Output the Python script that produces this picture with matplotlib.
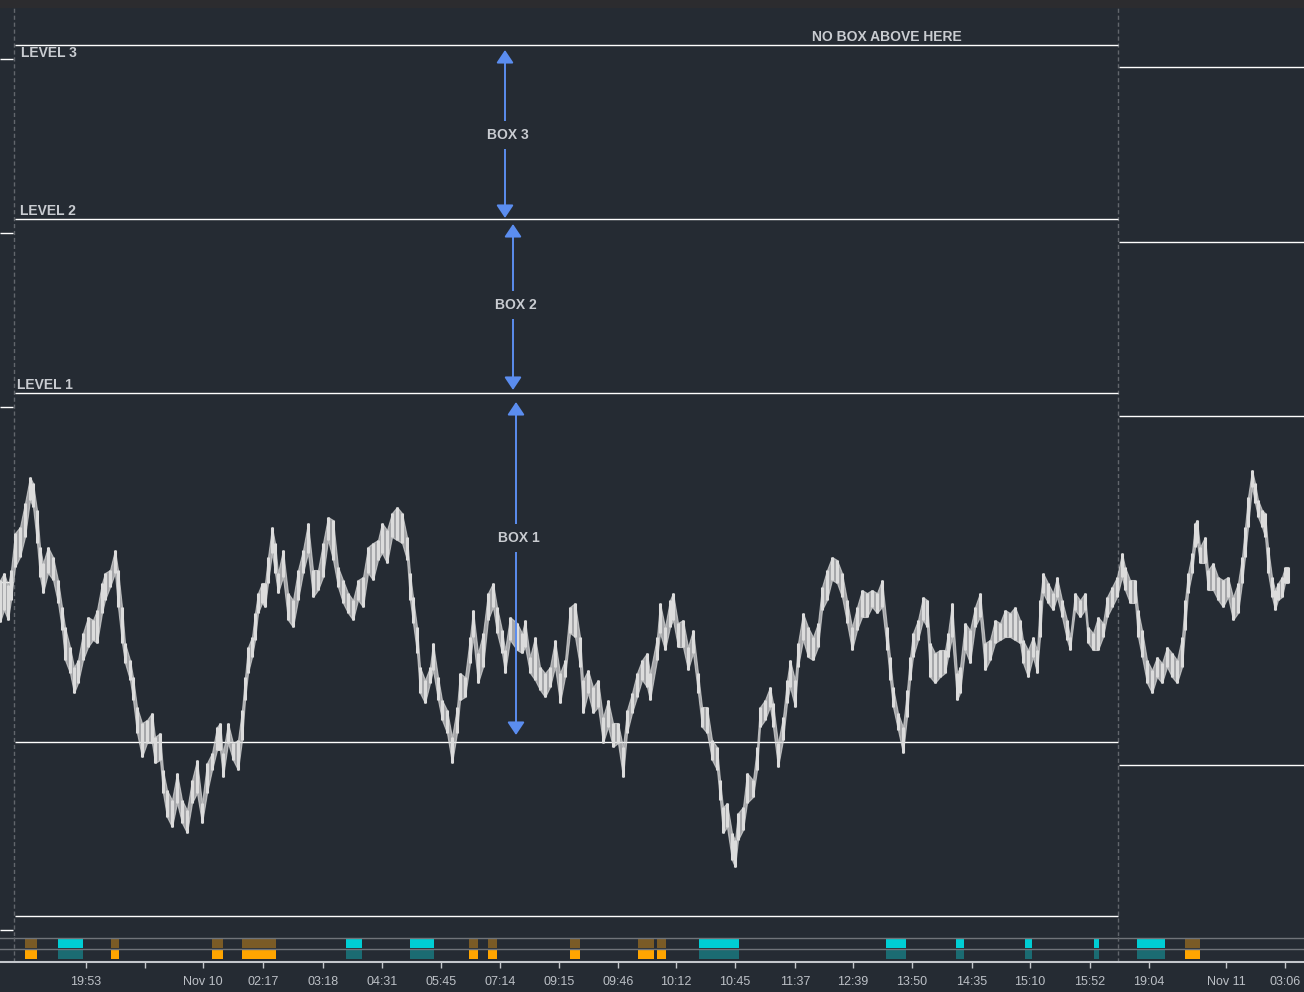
import matplotlib.pyplot as plt
from matplotlib.patches import Rectangle

# bar index (one bar per pixel column) and high/low prices
bar_idx = [0, 4, 8, 11, 15, 20, 25, 30, 33, 37, 40, 43, 48, 53, 58, 62, 65, 70, 74, 78,
           83, 88, 93, 97, 102, 105, 110, 115, 118, 122, 125, 130, 133, 137, 142, 147, 152, 155, 160, 163,
           167, 172, 177, 182, 187, 192, 197, 202, 207, 212, 217, 220, 223, 228, 233, 238, 242, 245, 248, 252,
           255, 258, 262, 265, 268, 272, 275, 278, 283, 288, 293, 298, 303, 308, 313, 318, 323, 328, 333, 338,
           343, 348, 353, 358, 363, 368, 373, 378, 382, 387, 392, 397, 402, 407, 410, 413, 417, 420, 425, 430,
           433, 438, 442, 447, 452, 457, 460, 465, 470, 473, 478, 483, 488, 493, 497, 502, 505, 510, 517, 522,
           525, 530, 535, 540, 545, 550, 555, 560, 565, 570, 575, 580, 583, 588, 593, 598, 603, 608, 613, 618,
           623, 627, 632, 637, 642, 647, 650, 657, 660, 665, 670, 673, 678, 683, 688, 693, 698, 702, 707, 712,
           717, 720, 723, 727, 732, 735, 738, 743, 747, 753, 757, 760, 765, 770, 773, 778, 783, 787, 790, 795,
           798, 803, 808, 813, 818, 822, 827, 832, 837, 842, 847, 852, 857, 862, 867, 872, 877, 882, 887, 890,
           893, 898, 903, 907, 910, 913, 918, 923, 927, 930, 935, 940, 945, 948, 952, 957, 960, 965, 970, 975,
           980, 985, 990, 995, 1000, 1005, 1010, 1015, 1020, 1023, 1028, 1033, 1037, 1040, 1043, 1048, 1053, 1057, 1062, 1067,
           1070, 1075, 1080, 1085, 1088, 1093, 1098, 1103, 1107, 1112, 1117, 1122, 1125, 1130, 1135, 1138, 1142, 1147, 1152, 1157,
           1162, 1167, 1172, 1177, 1182, 1185, 1188, 1192, 1195, 1197, 1200, 1205, 1208, 1213, 1218, 1223, 1228, 1233, 1238, 1242,
           1245, 1248, 1252, 1255, 1258, 1262, 1265, 1268, 1272, 1275, 1278, 1282, 1285, 1288]
highs = [420, 427, 415, 430, 467, 473, 497, 523, 517, 490, 453, 437, 453, 443, 420, 393, 373, 353, 333, 340,
         367, 383, 380, 390, 417, 427, 430, 450, 430, 393, 357, 340, 323, 293, 277, 280, 287, 263, 267, 230,
         210, 200, 227, 200, 190, 220, 240, 197, 237, 247, 273, 277, 247, 277, 257, 260, 290, 323, 353, 363,
         387, 407, 417, 417, 443, 473, 457, 427, 450, 407, 400, 430, 450, 477, 430, 430, 457, 483, 480, 433,
         420, 407, 400, 420, 423, 453, 457, 460, 477, 470, 487, 493, 487, 463, 427, 403, 373, 333, 320, 333,
         357, 323, 300, 290, 263, 293, 327, 323, 363, 390, 347, 367, 407, 417, 393, 370, 350, 383, 377, 367,
         380, 343, 363, 333, 327, 333, 360, 327, 340, 393, 397, 363, 320, 330, 313, 320, 283, 300, 277, 277,
         253, 290, 307, 327, 340, 347, 327, 363, 397, 373, 400, 407, 377, 380, 353, 370, 327, 293, 293, 260,
         253, 220, 193, 197, 167, 160, 187, 193, 227, 220, 253, 293, 300, 313, 297, 257, 283, 320, 340, 320,
         357, 387, 373, 363, 377, 413, 430, 443, 440, 427, 400, 373, 393, 410, 407, 410, 407, 420, 373, 343,
         313, 287, 273, 310, 343, 367, 380, 403, 400, 357, 347, 350, 350, 367, 397, 327, 333, 377, 370, 393,
         407, 357, 360, 380, 377, 390, 387, 393, 380, 360, 350, 363, 350, 400, 427, 417, 407, 423, 400, 380,
         363, 407, 400, 407, 373, 367, 383, 377, 403, 413, 423, 447, 433, 420, 420, 390, 370, 340, 330, 343,
         337, 353, 347, 340, 363, 400, 427, 447, 477, 480, 453, 463, 430, 437, 423, 420, 423, 403, 417, 443,
         473, 503, 530, 517, 500, 490, 487, 453, 423, 410, 417, 423, 433, 433]
lows = [378, 390, 380, 400, 433, 443, 463, 500, 493, 457, 423, 407, 427, 420, 397, 370, 340, 327, 307, 317,
        340, 353, 360, 357, 387, 400, 413, 427, 393, 357, 337, 320, 300, 267, 243, 257, 257, 237, 240, 207,
        183, 173, 197, 177, 167, 197, 207, 177, 207, 230, 250, 250, 223, 257, 240, 230, 260, 300, 327, 343,
        360, 387, 397, 393, 417, 447, 427, 407, 423, 380, 373, 400, 427, 447, 403, 410, 423, 460, 440, 413,
        397, 387, 380, 400, 393, 427, 420, 440, 447, 437, 463, 460, 457, 440, 400, 377, 347, 307, 297, 317,
        330, 300, 280, 267, 237, 267, 300, 303, 337, 363, 317, 333, 380, 393, 367, 347, 327, 360, 350, 347,
        353, 327, 320, 310, 303, 313, 333, 297, 323, 367, 363, 333, 287, 307, 287, 293, 257, 273, 253, 257,
        223, 267, 287, 303, 320, 313, 300, 340, 367, 350, 373, 380, 353, 353, 330, 347, 307, 273, 267, 240,
        230, 200, 167, 173, 140, 133, 160, 170, 197, 203, 230, 273, 280, 293, 273, 233, 260, 297, 313, 293,
        333, 360, 343, 340, 353, 390, 400, 420, 417, 403, 377, 350, 370, 383, 383, 393, 387, 393, 350, 320,
        293, 270, 247, 283, 320, 343, 360, 380, 373, 323, 317, 323, 327, 343, 363, 300, 307, 350, 337, 373,
        383, 330, 340, 357, 360, 363, 363, 360, 357, 337, 323, 343, 327, 363, 407, 397, 390, 403, 383, 360,
        350, 390, 383, 390, 357, 350, 350, 363, 383, 393, 403, 423, 410, 397, 397, 363, 343, 317, 307, 323,
        317, 333, 323, 317, 333, 370, 407, 427, 453, 457, 437, 437, 410, 410, 400, 393, 403, 380, 387, 417,
        443, 473, 513, 497, 483, 473, 463, 427, 403, 390, 400, 403, 417, 417]

# session boundaries and box levels per session
session_breaks = [14, 1118]
left_levels = [941, 767, 593, 418, 70]
main_levels = [955, 781, 607, 258, 84]
right_levels = [933, 758, 584, 235]
level_names = ["LEVEL 3", "LEVEL 2", "LEVEL 1"]

# boxes: (label, top, bottom, label position)
boxes = [("BOX 3", 950, 782, 865), ("BOX 2", 776, 610, 695), ("BOX 1", 598, 265, 462)]

# indicator strip events (start bar, end bar)
sell_events = [(25, 37), (111, 119), (212, 223), (242, 276), (469, 478), (488, 497),
               (570, 580), (638, 654), (657, 666), (1185, 1200)]
buy_events = [(58, 83), (346, 362), (410, 434), (699, 739), (886, 906), (956, 964),
              (1025, 1032), (1094, 1099), (1137, 1165)]

tick_pos = [86, 145, 203, 263, 323, 382, 441, 500, 559, 618, 676, 735, 795, 853, 912,
            972, 1030, 1090, 1149, 1226, 1285]
tick_labels = ["19:53", "", "Nov 10", "02:17", "03:18", "04:31", "05:45", "07:14", "09:15", "09:46",
               "10:12", "10:45", "11:37", "12:39", "13:50", "14:35", "15:10", "15:52", "19:04",
               "Nov 11", "03:06"]

BG = "#252b33"
TXT = "#c9ccd1"
ARROW = "#5b8def"
BAR = "#dcdcdc"
W, H = 1304, 992

plt.rcParams["font.family"] = ["Liberation Sans", "DejaVu Sans"]

fig = plt.figure(figsize=(W / 100, H / 100), dpi=100, facecolor=BG)

# dark title strip at the very top
fig.add_artist(Rectangle((0, (H - 8) / H), 1, 8 / H, transform=fig.transFigure,
                         facecolor="#2c2c2f", edgecolor="none"))

ax = fig.add_axes([0, (H - 936) / H, 1, 928 / H])
ax.set_facecolor(BG)
ax.set_xlim(0, W)
ax.set_ylim(64, 992)
ax.axis("off")

# price bars
ax.fill_between(bar_idx, lows, highs, color=BAR, alpha=0.7, lw=0.8, zorder=3)
ax.vlines(bar_idx, lows, highs, color=BAR, lw=2.2, zorder=4)

# level lines
for y in left_levels:
    ax.hlines(y, 0, session_breaks[0] - 1, color="white", lw=1.0, zorder=2)
for y in main_levels:
    ax.hlines(y, session_breaks[0] + 1, session_breaks[1], color="white", lw=1.0, zorder=2)
for y in right_levels:
    ax.hlines(y, session_breaks[1] + 1, W, color="white", lw=1.0, zorder=2)

for xb in session_breaks:
    ax.axvline(xb, color="#62666c", lw=1, ls=(0, (3, 2)), zorder=1)

# level labels
lab_kw = dict(color=TXT, fontsize=10, fontweight="bold", zorder=6)
ax.text(21, 947, level_names[0], ha="left", va="center", **lab_kw)
ax.text(20, 789, level_names[1], ha="left", va="center", **lab_kw)
ax.text(17, 615, level_names[2], ha="left", va="center", **lab_kw)
ax.text(887, 963, "NO BOX ABOVE HERE", ha="center", va="center", **lab_kw)

# box arrows
label_x = [508, 516, 519]
for (name, top, bot, ly), lx in zip(boxes, label_x):
    ax.annotate("", xy=(lx - 3, top), xytext=(lx - 3, bot),
                arrowprops=dict(arrowstyle="<|-|>,head_length=0.6,head_width=0.4", color=ARROW,
                                lw=1.4, mutation_scale=13, shrinkA=0, shrinkB=0), zorder=5)
    ax.text(lx, ly, name, ha="center", va="center",
            bbox=dict(facecolor=BG, edgecolor="none", pad=5), **lab_kw)

# indicator strip
sx = fig.add_axes([0, (H - 962) / H, 1, 26 / H])
sx.set_facecolor(BG)
sx.set_xlim(0, W)
sx.set_ylim(962, 936)
for y in (938, 948.5):
    sx.axhline(y, color="#70747a", lw=1)
sx.broken_barh([(a, b - a) for a, b in sell_events], (939, 9), facecolors="#7a5b26")
sx.broken_barh([(a, b - a) for a, b in buy_events], (939, 9), facecolors="#00ced4")
sx.broken_barh([(a, b - a) for a, b in sell_events], (949.5, 9.5), facecolors="#ffa500")
sx.broken_barh([(a, b - a) for a, b in buy_events], (949.5, 9.5), facecolors="#1b6b72")
for xb in session_breaks:
    sx.axvline(xb, color="#62666c", lw=1, ls=(0, (3, 2)))

for s in ("top", "left", "right"):
    sx.spines[s].set_visible(False)
sx.spines["bottom"].set_color("#c4c7cc")
sx.spines["bottom"].set_linewidth(1.5)
sx.set_yticks([])
sx.set_xticks(tick_pos)
sx.set_xticklabels(tick_labels)
sx.tick_params(axis="x", colors="#c4c7cc", labelcolor="#bcc0c6", length=4, width=1,
               pad=6, labelsize=9)

fig.savefig("out.png", dpi=100, facecolor=BG)
